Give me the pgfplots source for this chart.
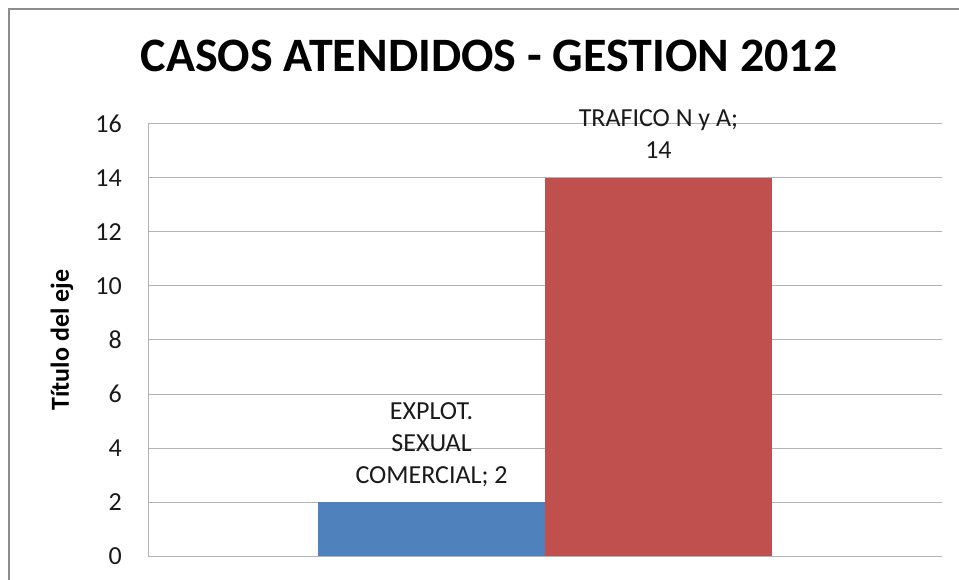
\documentclass[border=0pt]{standalone}
\usepackage{fontspec}
\setmainfont{Carlito}
\usepackage{pgfplots}
\pgfplotsset{compat=1.18}
\definecolor{framegray}{HTML}{8C8C8C}
\definecolor{gridgray}{HTML}{B3B3B3}
\definecolor{txt}{HTML}{1A1A1A}
\definecolor{barblue}{HTML}{4F81BD}
\definecolor{barred}{HTML}{C0504D}
\begin{document}
\begin{tikzpicture}[x=1pt,y=1pt]
\clip (0,0) rectangle (959,579);
\fill[white] (0,0) rectangle (959,579);
\draw[line width=2pt, color=framegray] (9,-20) rectangle (990,570);
\begin{axis}[
  at={(148pt,23pt)}, anchor=south west,
  scale only axis, width=794pt, height=432pt,
  xmin=-1.75, xmax=1.75, ymin=0, ymax=16,
  ytick={0,2,4,6,8,10,12,14,16}, xtick=\empty,
  axis x line=bottom, axis y line=left,
  axis line style={-, color=gridgray, line width=1pt},
  ymajorgrids, grid style={color=gridgray, line width=1pt},
  major tick length=0pt,
  /pgf/number format/assume math mode=true,
  yticklabel style={font=\fontsize{26}{30}\selectfont, text=txt, inner sep=0pt, xshift=-26pt},
  title={CASOS ATENDIDOS - GESTION 2012},
  title style={font=\fontsize{48}{58}\selectfont\bfseries, at={(rel axis cs:0.4295,1.1435)}, anchor=center, inner sep=0pt},
  ylabel={Título del eje},
  ylabel style={font=\fontsize{26}{30}\selectfont\bfseries, at={(rel axis cs:-0.1083,0.5)}, anchor=center, rotate=0, inner sep=0pt},
  clip=false,
]
\addplot[ybar, bar width=1, bar shift=0, fill=barblue, draw=none,
  nodes near coords={EXPLOT.\\SEXUAL\\COMERCIAL; 2},
  every node near coord/.style={font=\fontsize{26}{32}\selectfont, text=txt, align=center, anchor=south, inner sep=0pt, yshift=15pt}]
  coordinates {(-0.5,2)};
\addplot[ybar, bar width=1, bar shift=0, fill=barred, draw=none,
  nodes near coords={TRAFICO N y A;\\14},
  every node near coord/.style={font=\fontsize{26}{32}\selectfont, text=txt, align=center, anchor=south, inner sep=0pt, yshift=19pt}]
  coordinates {(0.5,14)};
\end{axis}
\end{tikzpicture}
\end{document}
